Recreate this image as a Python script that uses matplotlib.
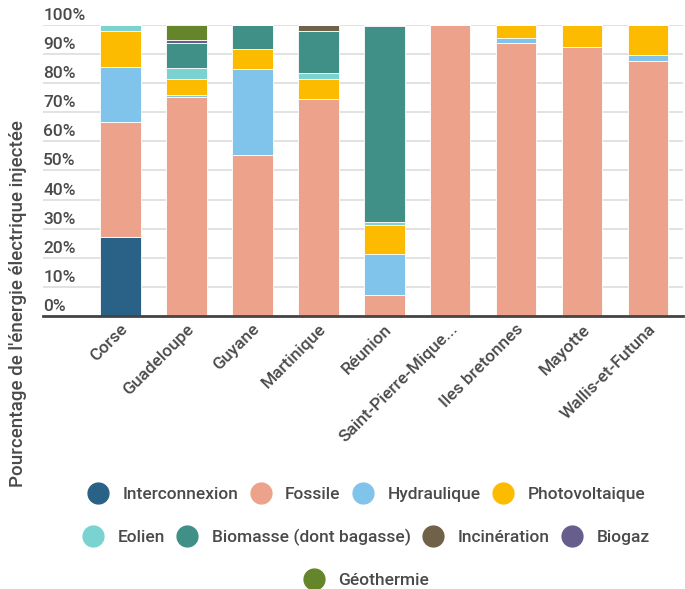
import matplotlib
matplotlib.use("Agg")
import matplotlib.pyplot as plt
from matplotlib.lines import Line2D
import numpy as np

plt.rcParams['font.family'] = ['Roboto', 'DejaVu Sans']
plt.rcParams['font.weight'] = 'medium'

territoires = ["Corse", "Guadeloupe", "Guyane", "Martinique", "Réunion",
               "Saint-Pierre-Mique...", "Iles bretonnes", "Mayotte", "Wallis-et-Futuna"]

sources = ["Interconnexion", "Fossile", "Hydraulique", "Photovoltaique", "Eolien",
           "Biomasse (dont bagasse)", "Incinération", "Biogaz", "Géothermie"]

# parts en % par territoire
interconnexion = [27.1, 0, 0, 0, 0, 0, 0, 0, 0]
fossile = [39.6, 75.3, 55.3, 74.6, 7.1, 100, 93.7, 92.3, 87.5]
hydraulique = [18.9, 0.6, 29.6, 0, 14.2, 0, 1.9, 0, 2.2]
photovoltaique = [12.3, 5.5, 6.9, 6.9, 10.0, 0, 4.4, 7.7, 10.3]
eolien = [2.1, 3.8, 0, 2.0, 0.9, 0, 0, 0, 0]
biomasse = [0, 8.6, 8.2, 14.4, 67.3, 0, 0, 0, 0]
incineration = [0, 0, 0, 2.1, 0, 0, 0, 0, 0]
biogaz = [0, 1.0, 0, 0, 0.5, 0, 0, 0, 0]
geothermie = [0, 5.2, 0, 0, 0, 0, 0, 0, 0]

series = [interconnexion, fossile, hydraulique, photovoltaique, eolien,
          biomasse, incineration, biogaz, geothermie]
colors = ["#2a6186", "#eda38b", "#80c4ec", "#fdbb00", "#7ad3d1",
          "#409087", "#6f6249", "#675e8e", "#64852a"]

text_color = "#4a4a4a"

fig = plt.figure(figsize=(6.85, 5.89), dpi=100)
ax = fig.add_axes([0.063, 0.4635, 0.934, 0.4941])

x = np.arange(len(territoires))
bottom = np.zeros(len(territoires))
for vals, col in zip(series, colors):
    vals = np.array(vals, dtype=float)
    ax.bar(x, vals, 0.62, bottom=bottom, color=col, edgecolor="white",
           linewidth=0.6, zorder=3)
    bottom += vals

ax.set_xlim(-1.167, 8.53)
ax.set_ylim(0, 100)

for s in ["top", "right", "left"]:
    ax.spines[s].set_visible(False)
ax.spines["bottom"].set_color("#444444")
ax.spines["bottom"].set_linewidth(2)
ax.spines["bottom"].set_zorder(4)

ax.set_yticks(np.arange(0, 101, 10))
ax.yaxis.grid(True, color="#dddddd", linewidth=1.2, zorder=0)
ax.tick_params(axis="y", length=0, labelleft=False)
for v in range(0, 101, 10):
    ax.text(0, v + 0.7, f"{v}%", transform=ax.get_yaxis_transform(),
            ha="left", va="bottom", fontsize=12.5, color=text_color)

ax.set_xticks(x)
ax.set_xticklabels(territoires, rotation=45, ha="right", rotation_mode="anchor",
                   fontsize=12.5, color=text_color)
ax.tick_params(axis="x", length=0, pad=4)

fig.text(0.026, 0.484, "Pourcentage de l'énergie électrique injectée", rotation=90,
         ha="center", va="center", fontsize=13.5, color=text_color)

handles = [Line2D([], [], marker="o", linestyle="", markersize=15,
                  markerfacecolor=c, markeredgecolor=c) for c in colors]

rows = [(0, 4, 0.161), (4, 8, 0.088), (8, 9, 0.015)]
for a, b, yc in rows:
    fig.legend(handles[a:b], sources[a:b], loc="center", bbox_to_anchor=(0.536, yc),
               ncol=b - a, frameon=False, fontsize=12.5, labelcolor=text_color,
               handlelength=1.0, handletextpad=0.9, columnspacing=0.8,
               borderpad=0, borderaxespad=0)

fig.savefig("out.png", dpi=100)
